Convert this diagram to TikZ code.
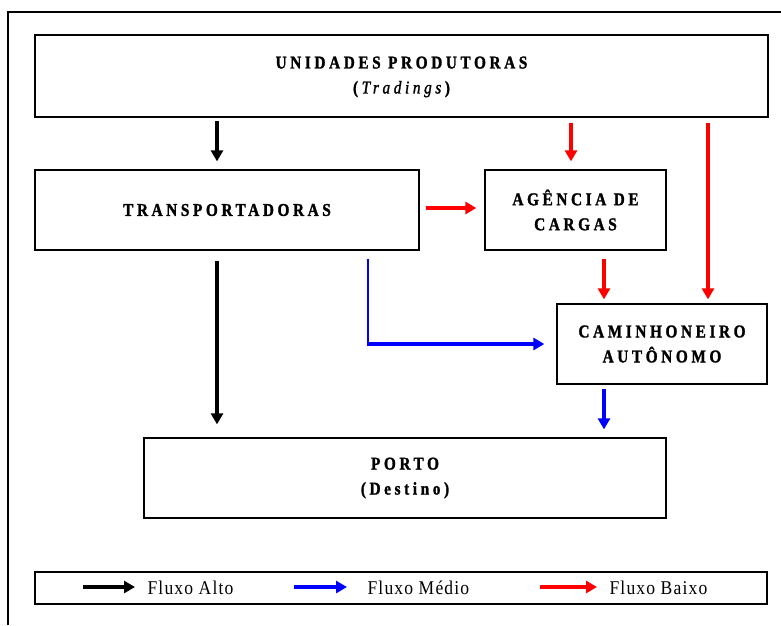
\documentclass[tikz,border=0pt]{standalone}
\usepackage{fontspec}
\setmainfont{Liberation Serif}
\newfontfamily\caixafont[LetterSpace=20, FakeStretch=0.85, FakeBold=1.5]{Liberation Serif}
\newfontfamily\legfont[LetterSpace=6, FakeStretch=0.9]{Liberation Serif}
\usetikzlibrary{arrows.meta}

\tikzset{
	caixa/.style={draw, line width=1.3pt, inner sep=0pt, align=center,
		font=\caixafont\bfseries\fontsize{18}{25}\selectfont},
	fluxo/.style={line width=4pt, shorten >=2pt,
		-{Triangle[length=11pt, width=12pt]}},
	alto/.style={fluxo, black},
	medio/.style={fluxo, blue},
	baixo/.style={fluxo, red},
	legtxt/.style={anchor=west, font=\legfont\fontsize{19.5}{20}\selectfont}
}

\begin{document}
\begin{tikzpicture}[x=1pt, y=-1pt]
	\useasboundingbox (0,0) rectangle (781,625);
	% moldura externa
	\draw[line width=1.5pt] (8,625) -- (8,12) -- (781,12);

	% caixas
	\node[caixa, minimum width=733pt, minimum height=82pt, text depth=2pt] (unid) at (401.5,76)
		{UNIDADES PRODUTORAS\\(\textmd{\textit{Tradings}})};
	\node[caixa, minimum width=384pt, minimum height=80pt] (transp) at (227,210)
		{TRANSPORTADORAS};
	\node[caixa, minimum width=181pt, minimum height=80pt] (agencia) at (575.5,210)
		{AGÊNCIA DE\\CARGAS};
	\node[caixa, minimum width=210pt, minimum height=80pt] (caminh) at (662,344)
		{CAMINHONEIRO\\AUTÔNOMO};
	\node[caixa, minimum width=522pt, minimum height=80pt] (porto) at (405,478)
		{PORTO\\(Destino)};

	% colunas das setas
	\coordinate (xa) at (217,0);
	\coordinate (xb) at (368,0);
	\coordinate (xc) at (571,0);
	\coordinate (xd) at (604,0);
	\coordinate (xe) at (708,0);
	\coordinate (dobra) at (368,344);

	% fluxos
	\draw[alto] ([yshift=-3pt]unid.south -| xa) -- ([yshift=6pt]transp.north -| xa);
	\draw[alto] ([yshift=-10pt]transp.south -| xa) -- ([yshift=11pt]porto.north -| xa);
	\draw[baixo] ([yshift=-5pt]unid.south -| xc) -- ([yshift=6pt]agencia.north -| xc);
	\draw[baixo] ([yshift=-5pt]unid.south -| xe) -- ([yshift=2pt]caminh.north -| xe);
	\draw[baixo] ([xshift=6pt,yshift=2pt]transp.east) -- ([xshift=-6pt,yshift=2pt]agencia.west);
	\draw[baixo] ([yshift=-8pt]agencia.south -| xd) -- ([yshift=2pt]caminh.north -| xd);
	\draw[blue, line width=2pt] ([yshift=-8pt]transp.south -| xb) -- (dobra);
	\draw[medio] ([xshift=-1pt]dobra) -- ([xshift=-10pt]caminh.west);
	\draw[medio] ([yshift=-4pt]caminh.south -| xd) -- ([yshift=6pt]porto.north -| xd);

	% legenda
	\node[draw, line width=1.3pt, minimum width=732pt, minimum height=32pt] (leg) at (401,588) {};
	\coordinate (la1) at (83,587);  \coordinate (la2) at (137,587);
	\coordinate (lm1) at (294,587); \coordinate (lm2) at (349,587);
	\coordinate (lb1) at (540,587); \coordinate (lb2) at (599,587);
	\draw[alto] (la1) -- (la2);
	\draw[medio] (lm1) -- (lm2);
	\draw[baixo] (lb1) -- (lb2);
	\node[legtxt] (ta) at (144,588) {Fluxo Alto};
	\node[legtxt] (tm) at (364,588) {Fluxo Médio};
	\node[legtxt] (tb) at (606,588) {Fluxo Baixo};
\end{tikzpicture}
\end{document}
